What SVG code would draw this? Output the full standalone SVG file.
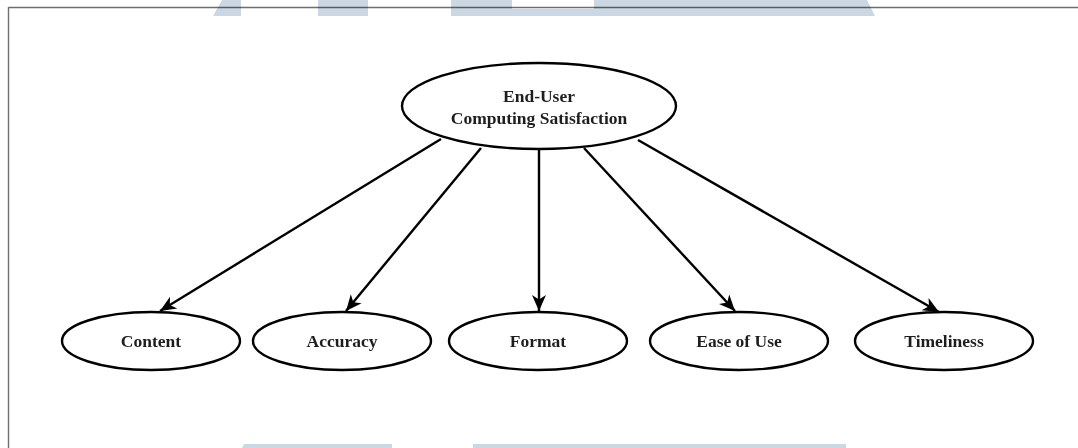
<svg xmlns="http://www.w3.org/2000/svg" width="1078" height="448" viewBox="0 0 1078 448">
  <style>
    .node ellipse { fill: #ffffff; stroke: #000000; stroke-width: 2.4; }
    .node text { font-family: "Liberation Serif", "Times New Roman", serif; font-size: 17.5px; font-weight: bold; fill: #1e1e1e; text-anchor: middle; }
    .edge { stroke: #000000; stroke-width: 2.4; fill: none; marker-end: url(#arrow); }
    .frame { stroke: #6e6e6e; stroke-width: 1.4; fill: none; }
    .wm { fill: #cbd7e2; }
  </style>
  <defs>
    <marker id="arrow" markerUnits="userSpaceOnUse" markerWidth="20" markerHeight="18" viewBox="-18 -9 20 18" refX="0" refY="0" orient="auto">
      <path d="M0,0 L-16,-7 L-11.5,0 L-16,7 Z" fill="#000000"/>
    </marker>
  </defs>
  <rect width="1078" height="448" fill="#ffffff"/>
  <g id="frame">
    <line class="frame" x1="8.5" y1="7.5" x2="1078" y2="7.5"/>
    <line class="frame" x1="8.5" y1="7" x2="8.5" y2="448"/>
  </g>
  <g id="watermark" style="mix-blend-mode:multiply">
    <polygon class="wm" points="222,0 241,0 241,16 213,16"/>
    <rect class="wm" x="318" y="0" width="50" height="16"/>
    <rect class="wm" x="451" y="0" width="61" height="16"/>
    <rect class="wm" x="512" y="9" width="82" height="7"/>
    <polygon class="wm" points="594,0 867,0 875,16 594,16"/>
    <polygon class="wm" points="244,444 392,444 392,448 242,448"/>
    <rect class="wm" x="473" y="444" width="373" height="4"/>
  </g>
  <g id="connectors">
    <line class="edge" x1="441" y1="139" x2="160" y2="311"/>
    <line class="edge" x1="481" y1="148" x2="346" y2="311"/>
    <line class="edge" x1="539" y1="149" x2="539" y2="311"/>
    <line class="edge" x1="584" y1="148" x2="735" y2="311"/>
    <line class="edge" x1="638" y1="140" x2="939" y2="312"/>
  </g>
  <g id="node-ecs" class="node">
    <ellipse cx="539" cy="106" rx="137" ry="43"/>
    <text x="539" y="101.5">End-User</text>
    <text x="539" y="124">Computing Satisfaction</text>
  </g>
  <g id="node-content" class="node">
    <ellipse cx="151" cy="341" rx="89" ry="29"/>
    <text x="151" y="347">Content</text>
  </g>
  <g id="node-accuracy" class="node">
    <ellipse cx="342" cy="341" rx="89" ry="29"/>
    <text x="342" y="347">Accuracy</text>
  </g>
  <g id="node-format" class="node">
    <ellipse cx="538" cy="341" rx="89" ry="29"/>
    <text x="538" y="347">Format</text>
  </g>
  <g id="node-ease" class="node">
    <ellipse cx="739" cy="341" rx="89" ry="29"/>
    <text x="739" y="347">Ease of Use</text>
  </g>
  <g id="node-timeliness" class="node">
    <ellipse cx="944" cy="341" rx="89" ry="29"/>
    <text x="944" y="347">Timeliness</text>
  </g>
</svg>
